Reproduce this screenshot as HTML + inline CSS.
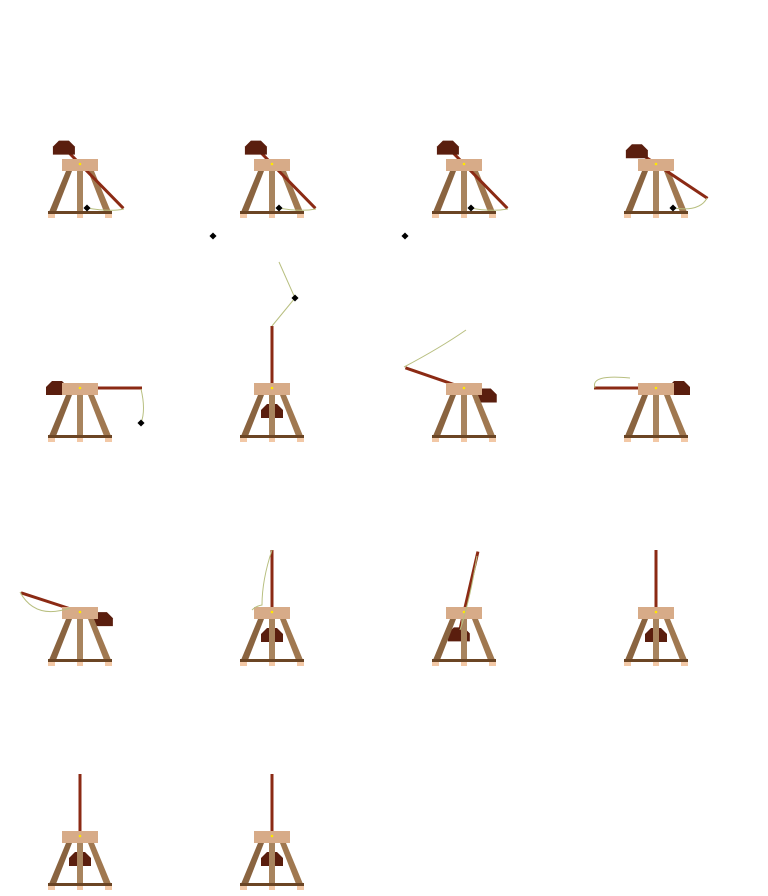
<!DOCTYPE html>
<html><head><meta charset="utf-8">
<style>html,body{margin:0;padding:0;background:#fff;width:768px;height:896px;overflow:hidden}svg{display:block}</style>
</head><body>
<svg id="stage" width="768" height="896" xmlns="http://www.w3.org/2000/svg"></svg>
<script>
const frameAngles = [45.6, 45.6, 45.6, 33.7, 0, -90, 199, 180, 198, -90, -77, -90, -90, -90];
const projectileX = [87, 279, 471, 673, 141, 295, null, null, null, null, null, null, null, null];
const projectileY = [208, 208, 208, 208, 423, 298, null, null, null, null, null, null, null, null];
const slingPaths = [
 "M124,209 Q110,212 87,208",
 "M316,209 Q300,212 279,208",
 "M508,209 Q490,212 471,208",
 "M707,198 Q700,212 673,208",
 "M141,389 Q146,410 141,423",
 "M272,326 L295,298 L279,262",
 "M404,367 Q440,348 466,330",
 "M595,388 Q590,374 630,378",
 "M20,592 Q35,620 70,608",
 "M272,550 Q262,580 262,605 Q256,606 252,610",
 "M477,556 Q470,600 460,630",
 "", "", ""
];
const strayX = [213, 405];
const strayY = [236, 236];
const NS = "http://www.w3.org/2000/svg";
const svg = document.getElementById('stage');
function mk(tag, attrs, parent){const e=document.createElementNS(NS,tag);for(const k in attrs)e.setAttribute(k,attrs[k]);(parent||svg).appendChild(e);return e;}
const LONG = 62, SHORT = 23;
frameAngles.forEach((ang, i) => {
  const c = i % 4, r = Math.floor(i / 4);
  const px = 80 + 192 * c, py = 164 + 224 * r;
  const g = mk('g', {});
  
  
  const a = ang * Math.PI / 180;
  const tx = px + LONG * Math.cos(a), ty = py + LONG * Math.sin(a);
  const sx = px - SHORT * Math.cos(a), sy = py - SHORT * Math.sin(a);
  const shortArm = mk('line', {x1:sx, y1:sy, x2:px, y2:py, stroke:'#8b2a14', 'stroke-width':3}, g);
  
  
  const cw = mk('polygon', {points: [[sx-5,sy-7],[sx+5,sy-7],[sx+11,sy-1],[sx+11,sy+7],[sx-11,sy+7],[sx-11,sy-1]].map(p=>p.join(',')).join(' '), fill:'#5a1e0e'}, g);
  
  
  mk('polygon', {points:`${px-14},${py+7} ${px-8},${py+7} ${px-24},${py+48} ${px-31},${py+48}`, fill:'#8a6440'}, g);
  mk('polygon', {points:`${px+8},${py+7} ${px+14},${py+7} ${px+31},${py+48} ${px+24},${py+48}`, fill:'#a07850'}, g);
  mk('rect', {x:px-3, y:py+7, width:6, height:42, fill:'#a8845e'}, g);
  mk('rect', {x:px-32, y:py+47, width:64, height:3, fill:'#6b4524'}, g);
  [[px-32,7],[px-3,6],[px+25,7]].forEach(f => mk('rect', {x:f[0], y:py+50, width:f[1], height:4, fill:'#f2c8a6'}, g));
  const arm = mk('line', {x1:px, y1:py, x2:tx, y2:ty, stroke:'#8b2a14', 'stroke-width':3}, g);
  
  
  mk('rect', {x:px-18, y:py-5, width:36, height:12, fill:'#d7ab88'}, g);
  mk('circle', {cx:px, cy:py, r:1.3, fill:'#ffe800'}, g);
  if (slingPaths[i]) {
    const s = mk('path', {d:slingPaths[i], stroke:'#b8bf80', 'stroke-width':1, fill:'none'}, g);
    
    
  }
  if (projectileX[i] !== null) {
    const p = mk('rect', {x:projectileX[i]-2.5, y:projectileY[i]-2.5, width:5, height:5, fill:'#000', transform:`rotate(45 ${projectileX[i]} ${projectileY[i]})`}, g);
    
    
  }
});
strayX.forEach((x, k) => {
  const p = mk('rect', {x:x-2.5, y:strayY[k]-2.5, width:5, height:5, fill:'#000', transform:`rotate(45 ${x} ${strayY[k]})`});
  
  
});
</script>
</body></html>
